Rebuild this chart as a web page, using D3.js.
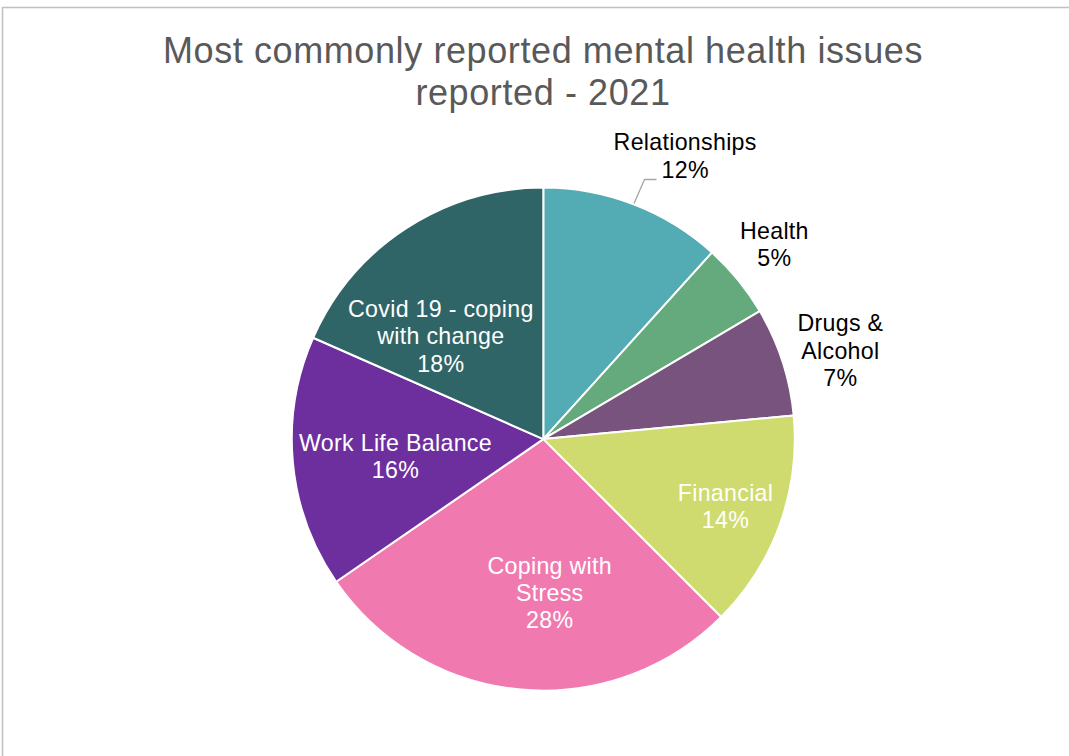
<!DOCTYPE html>
<html>
<head>
<meta charset="utf-8">
<script src="https://cdn.jsdelivr.net/npm/d3@7"></script>
<style>
  html, body { margin: 0; padding: 0; background: #fff; }
  svg { display: block; }
  text { font-family: "Liberation Sans", Arial, sans-serif; }
</style>
</head>
<body>
<svg id="chart" width="1069" height="756"></svg>
<script>
// Share of reported issues, 2021 (percent of all cases)
const categories = [
  "Relationships",
  "Health",
  "Drugs & Alcohol",
  "Financial",
  "Coping with Stress",
  "Work Life Balance",
  "Covid 19 - coping with change"
];
const shares = [11.7, 4.8, 7.0, 14.0, 27.9, 16.2, 18.4];

// Label line breaks, as wrapped in the chart
const labelLines = [
  ["Relationships"],
  ["Health"],
  ["Drugs &", "Alcohol"],
  ["Financial"],
  ["Coping with", "Stress"],
  ["Work Life Balance"],
  ["Covid 19 - coping", "with change"]
];

const sliceColors = ["#53abb3", "#64aa7c", "#77537d", "#cfdb6e", "#f07ab0", "#6e2f9e", "#306568"];

// Label placement: distance from centre (as a fraction of the radius),
// angular nudge in degrees from the slice middle, and whether it sits inside.
const labelPlacement = [
  { r: 1.257, nudge: 5.6,  inside: false, leader: true },
  { r: 1.200, nudge: -0.8, inside: false, leader: false },
  { r: 1.232, nudge: 1.5,  inside: false, leader: false },
  { r: 0.773, nudge: 0.6,  inside: true,  leader: false },
  { r: 0.615, nudge: -7.6, inside: true,  leader: false },
  { r: 0.592, nudge: -1.5, inside: true,  leader: false },
  { r: 0.576, nudge: -11.9, inside: true, leader: false }
];

const W = 1069, H = 756;
const cx = 543.3, cy = 439.1, R = 251.5;
const labelSize = 23.2, lineH = 27.3;

const svg = d3.select("#chart");

// Chart area border (clipped by the page on the right and bottom)
svg.append("path")
  .attr("d", `M2.5,${H} L2.5,7.5 L${W},7.5`)
  .attr("fill", "none")
  .attr("stroke", "#bfbfbf")
  .attr("stroke-width", 1.5);

// Title
const title = svg.append("text")
  .attr("text-anchor", "middle")
  .attr("fill", "#595959")
  .attr("font-size", 36)
  .attr("letter-spacing", 0.6);
title.append("tspan").attr("x", 543).attr("y", 63).text("Most commonly reported mental health issues");
title.append("tspan").attr("x", 543).attr("y", 105).text("reported - 2021");

const data = categories.map((c, i) => ({ name: c, value: shares[i], i }));
const total = d3.sum(shares);
const pct = d3.format(".0%");

const pie = d3.pie().sort(null).value(d => d.value);
const arcs = pie(data);
const arc = d3.arc().innerRadius(0).outerRadius(R);

const g = svg.append("g").attr("transform", `translate(${cx},${cy})`);

g.selectAll("path.slice")
  .data(arcs)
  .join("path")
  .attr("class", "slice")
  .attr("d", arc)
  .attr("fill", d => sliceColors[d.data.i])
  .attr("stroke", "#fff")
  .attr("stroke-width", 2)
  .attr("stroke-linejoin", "round");

// Polar helper: angle measured clockwise from 12 o'clock
const polar = (a, r) => [r * Math.sin(a), -r * Math.cos(a)];

arcs.forEach(d => {
  const p = labelPlacement[d.data.i];
  const mid = (d.startAngle + d.endAngle) / 2;
  const [lx, ly] = polar(mid + p.nudge * Math.PI / 180, p.r * R);
  const lines = labelLines[d.data.i].concat([pct(d.data.value / total)]);
  const n = lines.length;
  const t = g.append("text")
    .attr("text-anchor", "middle")
    .attr("font-size", labelSize)
    .attr("letter-spacing", 0.3)
    .attr("fill", p.inside ? "#ffffff" : "#000000");
  lines.forEach((s, k) => {
    t.append("tspan")
      .attr("x", lx)
      .attr("y", ly + (k - (n - 1) / 2) * lineH + 7.5)
      .text(s);
  });

  if (p.leader) {
    // Leader from the bottom-left of the label to the slice edge
    const last = t.selectAll("tspan").nodes()[n - 1];
    const w = last.getComputedTextLength();
    const sx = lx - w / 2 - 5;
    const sy = ly + ((n - 1) / 2) * lineH + 8.3 + 1;
    const [ex, ey] = polar(mid, R + 1);
    g.append("polyline")
      .attr("points", [[sx, sy], [sx - 12, sy], [ex, ey]].map(q => q.join(",")).join(" "))
      .attr("fill", "none")
      .attr("stroke", "#a6a6a6")
      .attr("stroke-width", 1.3);
  }
});
</script>
</body>
</html>
